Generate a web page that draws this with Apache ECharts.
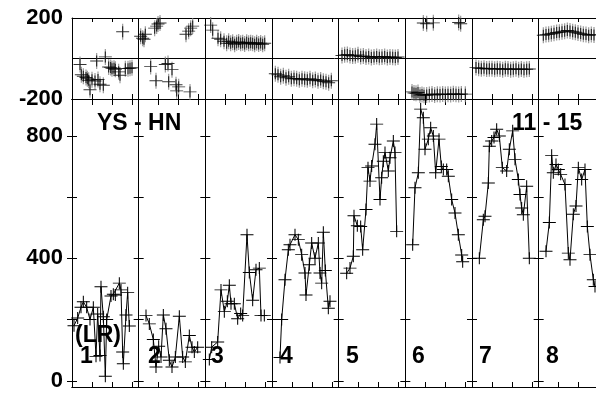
<!DOCTYPE html>
<html>
<head>
<meta charset="utf-8" />
</head>
<body style="margin:0">
<div id="main" style="width:596px;height:394px;"></div>
<script src="https://cdn.jsdelivr.net/npm/echarts@6/dist/echarts.min.js"></script>
<script>
// top panel (-200..200), one cloud per column, x in 0..10 inside the column
var hn1 = [[1.2,-30],[3.7,-12],[5.0,8],[1.7,-88],[2.1,-94],[2.5,-108],[3.45,-111],[3.9,-104],[4.2,-127],[4.7,-132],[2.7,-154],[5.5,-42],[6.0,-50],[6.5,-53],[7.0,-66],[7.2,-83],[8.0,-50],[8.4,-50],[9.0,-46],[7.6,132],[1.4,-80],[2.3,-100],[3.0,-105],[5.8,-45],[6.3,-48],[8.7,-48]];
var hn2 = [[0.3,110],[0.6,100],[0.8,95],[1.0,120],[2.4,150],[2.7,160],[2.9,170],[3.2,175],[7.1,120],[7.5,135],[7.8,150],[8.1,160],[1.8,-40],[2.6,-110],[4.0,-30],[4.4,-25],[5.0,-55],[4.5,-115],[5.6,-130],[5.7,-160],[6.0,-140],[7.7,-165]];
var hn3 = [[0.8,165],[1.1,140],[1.9,100],[2.3,95],[2.8,85],[3.2,75],[3.5,85],[3.8,75],[4.1,80],[4.4,70],[4.7,78],[5.0,82],[5.3,75],[5.6,78],[5.9,72],[6.2,80],[6.5,75],[6.8,78],[7.1,75],[7.4,70],[7.7,78],[8.0,72],[8.3,76],[8.6,70],[8.9,75]];
var hn4 = [[0.5,-75],[0.9,-80],[1.3,-90],[1.7,-85],[2.1,-95],[2.5,-90],[2.9,-100],[3.3,-98],[3.7,-100],[4.1,-105],[4.5,-100],[4.9,-102],[5.3,-105],[5.7,-100],[6.1,-108],[6.5,-104],[6.9,-110],[7.3,-106],[7.7,-112],[8.1,-115],[8.5,-120],[8.9,-110]];
var hn5 = [[0.5,15],[0.9,18],[1.3,20],[1.7,15],[2.1,12],[2.5,14],[2.9,18],[3.3,10],[3.7,12],[4.1,8],[4.5,10],[4.9,5],[5.3,8],[5.7,10],[6.1,6],[6.5,8],[6.9,10],[7.3,5],[7.7,8],[8.1,6],[8.5,5],[8.9,7]];
var hn6 = [[2.7,175],[3.2,172],[4.2,176],[8.0,178],[8.3,172],[1.0,-165],[1.3,-170],[1.6,-172],[1.9,-168],[2.2,-180],[2.5,-178],[2.8,-182],[3.2,-180],[3.6,-178],[4.0,-175],[4.4,-180],[4.8,-176],[5.2,-178],[5.6,-175],[6.0,-178],[6.4,-176],[6.8,-178],[7.2,-174],[7.6,-176],[8.0,-178],[8.4,-175],[9.0,-176]];
var hn7 = [[0.6,-45],[1.0,-48],[1.4,-50],[1.8,-48],[2.2,-52],[2.6,-50],[3.0,-50],[3.4,-53],[3.8,-50],[4.2,-52],[4.6,-55],[5.0,-50],[5.4,-52],[5.8,-55],[6.2,-53],[6.6,-50],[7.0,-55],[7.4,-52],[7.8,-55],[8.2,-53],[8.6,-52]];
var hn8 = [[0.7,115],[1.1,118],[1.5,120],[1.9,122],[2.3,125],[2.7,128],[3.1,130],[3.5,132],[3.9,135],[4.3,138],[4.7,136],[5.1,132],[5.5,130],[5.9,126],[6.3,124],[6.7,120],[7.1,118],[7.5,115],[7.9,118],[8.3,116]];

// bottom panel (LR), one line per column
var lr1 = [[0.3,180],[0.85,205],[1.35,240],[1.7,258],[2.2,240],[2.7,200],[3.2,240],[3.6,80],[3.85,218],[4.2,83],[4.35,307],[4.7,209],[5.0,15],[5.2,200],[5.85,277],[6.2,283],[6.5,280],[7.1,319],[7.35,297],[7.6,94],[7.7,56],[8.1,215],[8.35,288],[8.6,179]];
var lr2 = [[1.1,213],[1.6,186],[2.2,135],[2.6,45],[3.0,113],[3.35,78],[3.7,215],[4.1,170],[4.6,67],[5.0,45],[5.5,78],[6.1,211],[6.6,78],[7.0,62],[7.6,148],[8.0,110],[8.35,94],[8.85,110]];
var lr3 = [[0.6,70],[0.95,110],[1.85,127],[2.35,297],[2.85,226],[3.3,260],[3.6,312],[3.85,252],[4.35,252],[4.85,203],[5.3,220],[5.6,213],[6.25,477],[6.6,354],[7.1,263],[7.6,363],[8.1,368],[8.35,213],[8.85,213]];
var lr4 = [[1.2,76],[1.45,200],[1.95,330],[2.45,428],[2.7,444],[3.45,477],[3.95,461],[4.45,412],[4.95,352],[5.1,280],[5.6,379],[5.95,450],[6.45,400],[6.95,450],[7.2,352],[7.45,319],[7.7,485],[8.0,360],[8.45,237],[8.7,260]];
var lr5 = [[1.2,351],[1.7,368],[2.2,407],[2.3,539],[2.8,506],[3.3,504],[3.6,428],[4.1,559],[4.4,696],[4.7,652],[4.95,701],[5.45,772],[5.7,838],[6.2,592],[6.45,663],[6.7,717],[6.95,745],[7.45,685],[7.7,728],[8.2,783],[8.45,745],[8.7,488]];
var lr6 = [[1.1,444],[1.45,630],[1.95,679],[2.3,887],[2.7,859],[2.95,756],[3.45,789],[3.8,826],[4.2,799],[4.55,679],[5.05,789],[5.4,700],[5.7,690],[6.2,690],[6.45,668],[6.95,592],[7.45,548],[7.95,477],[8.45,411],[8.6,389]];
var lr7 = [[1.1,400],[1.7,526],[1.95,537],[2.45,646],[2.6,766],[2.95,783],[3.3,794],[3.7,821],[4.1,799],[4.55,696],[5.2,685],[5.6,756],[6.1,816],[6.45,723],[6.95,657],[7.2,608],[7.45,564],[7.7,542],[8.2,635],[8.6,400]];
var lr8 = [[1.1,423],[1.6,517],[1.95,736],[2.2,679],[2.6,706],[2.95,690],[3.3,674],[3.95,641],[4.45,417],[4.7,395],[5.2,544],[5.6,571],[5.95,696],[6.45,657],[6.95,690],[7.3,504],[7.7,412],[8.2,330],[8.45,308]];

var colLabels = ['1','2','3','4','5','6','7','8'];
var colLabelX = [80, 148, 211, 280, 346, 412, 479, 546];
var topLabels = [200, -200];
var bottomTicks = [0, 200, 400, 600, 800];
var bottomLabels = [0, 400, 800];

var topCols = [hn1, hn2, hn3, hn4, hn5, hn6, hn7, hn8];
var botCols = [lr1, lr2, lr3, lr4, lr5, lr6, lr7, lr8];

var CROSS = 'path://M0,5L10,5M5,0L5,10';
var FONT = '"Liberation Sans", Arial, sans-serif';
var PW = 533.33, W = PW / 8;

var xTicks = [];
for (var k = 0; k < 8; k++) xTicks.push(10 * k, 10 * k + 3, 10 * k + 6, 10 * k + 9);
xTicks.push(80);

function shift(col, k) {
  return col.map(function (p) { return [p[0] + 10 * k, p[1]]; });
}

var black = { color: '#000', width: 1 };

function xAx(grid, pos, split, tickLen) {
  return {
    type: 'value', gridIndex: grid, position: pos, min: 0, max: 80, interval: 10,
    axisLine: { show: true, onZero: false, lineStyle: black },
    axisTick: tickLen ? { show: true, inside: true, length: tickLen, customValues: xTicks, lineStyle: black } : { show: false },
    axisLabel: { show: false },
    splitLine: { show: split, lineStyle: black }
  };
}

var xAxes = [
  xAx(0, 'bottom', true, 0),
  xAx(0, 'bottom', false, 5),
  xAx(0, 'top', false, 4),
  xAx(1, 'bottom', true, 0),
  xAx(1, 'bottom', false, 5),
  xAx(1, 'top', false, 6)
];

var labelStyle = { color: '#000', fontSize: 22, fontWeight: 'bold', fontFamily: FONT, margin: 9 };

var yAxes = [
  {
    type: 'value', gridIndex: 0, min: -200, max: 200, interval: 200,
    axisLine: { show: true, onZero: false, lineStyle: black },
    axisTick: { show: false },
    axisLabel: Object.assign({ customValues: topLabels }, labelStyle),
    splitLine: { show: true, lineStyle: black }
  },
  {
    type: 'value', gridIndex: 1, min: -20, max: 920, position: 'left',
    axisLine: { show: true, onZero: false, lineStyle: black },
    axisTick: { show: true, inside: false, length: 5, customValues: bottomTicks, lineStyle: black },
    axisLabel: Object.assign({ customValues: bottomLabels }, labelStyle),
    splitLine: { show: false }
  }
];
for (var k = 0; k < 8; k++) {
  var ins = [true];
  if (k > 0) ins.push(false);
  ins.forEach(function (inside) {
    yAxes.push({
      type: 'value', gridIndex: 1, min: -20, max: 920, position: 'left', offset: -k * W,
      axisLine: { show: true, onZero: false, lineStyle: black },
      axisTick: { show: true, inside: inside, length: 5, customValues: bottomTicks, lineStyle: black },
      axisLabel: { show: false },
      splitLine: { show: false }
    });
  });
}

var series = [];
topCols.forEach(function (col, k) {
  series.push({
    type: 'scatter', xAxisIndex: 0, yAxisIndex: 0, data: shift(col, k),
    symbol: 'rect', symbolSize: [1.2, 16], z: 2, silent: true,
    itemStyle: { color: '#808080' }
  });
  series.push({
    type: 'scatter', xAxisIndex: 0, yAxisIndex: 0, data: shift(col, k),
    symbol: CROSS, symbolSize: [13, 11], z: 3, silent: true,
    itemStyle: { color: '#000', borderColor: '#000', borderWidth: 1 }
  });
});
botCols.forEach(function (col, k) {
  series.push({
    type: 'line', xAxisIndex: 3, yAxisIndex: 1, data: shift(col, k),
    symbol: CROSS, symbolSize: [13, 12], showSymbol: true, silent: true, z: 3,
    lineStyle: { color: '#000', width: 1 },
    itemStyle: { color: '#000', borderColor: '#000', borderWidth: 1 }
  });
});

var boldText = 'bold 23px ' + FONT;
var graphics = [
  { type: 'text', x: 97, y: 124, style: { text: 'YS - HN', font: boldText, fill: '#000', verticalAlign: 'middle' } },
  { type: 'text', x: 512, y: 124, style: { text: '11 - 15', font: boldText, fill: '#000', verticalAlign: 'middle' } },
  { type: 'text', x: 75, y: 336, style: { text: '(LR)', font: boldText, fill: '#000', verticalAlign: 'middle' } }
];
colLabels.forEach(function (t, i) {
  graphics.push({ type: 'text', x: colLabelX[i], y: 357, style: { text: t, font: boldText, fill: '#000', verticalAlign: 'middle' } });
});

var myChart = echarts.init(document.getElementById('main'));
myChart.setOption({
  animation: false,
  backgroundColor: '#fff',
  grid: [
    { left: 72, top: 18, width: PW, height: 81, outerBoundsMode: 'none', containLabel: false },
    { left: 72, top: 99, width: PW, height: 288, outerBoundsMode: 'none', containLabel: false }
  ],
  xAxis: xAxes,
  yAxis: yAxes,
  series: series,
  graphic: graphics
});
</script>
</body>
</html>
